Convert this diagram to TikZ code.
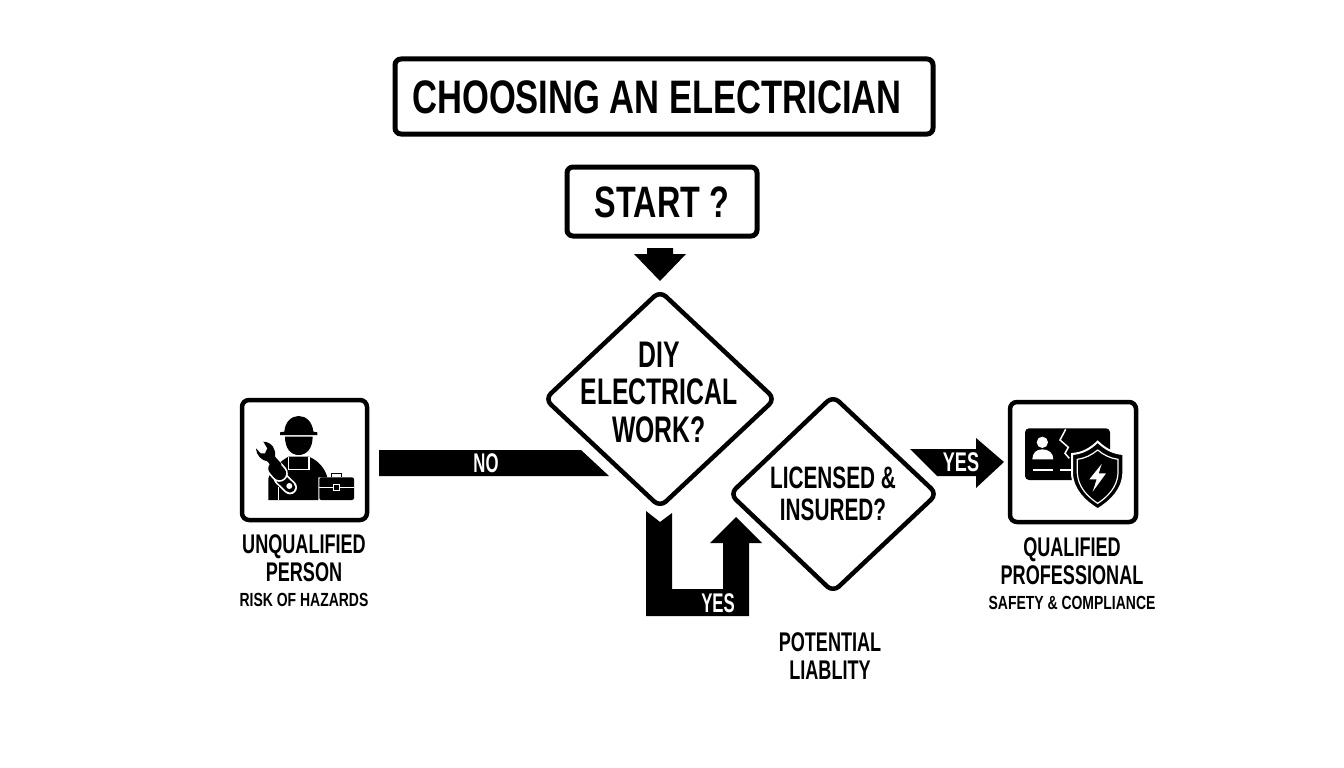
\documentclass[tikz,border=0pt]{standalone}
\usepackage{fontspec}
\newfontfamily\fa[FakeStretch=0.735]{Liberation Sans Bold}
\newfontfamily\fb[FakeStretch=0.67]{Liberation Sans Bold}
\newfontfamily\fc[FakeStretch=0.62]{Liberation Sans Bold}
\usetikzlibrary{shapes.geometric}
\tikzset{
  box/.style={draw=black,line width=5pt,rounded corners=6pt,fill=white},
  iconbox/.style={draw=black,line width=4.5pt,rounded corners=7pt,fill=white},
  decision/.style={draw=black,line width=4.5pt,rounded corners=8pt,fill=white,line join=round},
  blockarrow/.style={fill=black,draw=none},
  lbl/.style={inner sep=0pt,align=center},
  zoomed/.style={x=0.33333pt,y=-0.33333pt},
}
\begin{document}
\begin{tikzpicture}[x=1pt,y=-1pt]
\useasboundingbox (0,0) rectangle (1344,768);
\fill[white] (0,0) rectangle (1344,768);
% title and start
\draw[box] (395,59) rectangle (933,134);
\node[lbl,font=\fa\fontsize{47}{50}\selectfont] (title) at (657,97) {CHOOSING AN ELECTRICIAN};
\draw[box] (567,167) rectangle (757,236);
\node[lbl,font=\fa\fontsize{44}{48}\selectfont] (start) at (662,202) {START ?};
% diamonds
\draw[decision] (660,291) -- (775,399) -- (660,507) -- (545,399) -- cycle;
\draw[decision] (833,396) -- (937,494) -- (833,592) -- (730,494) -- cycle;
\node[lbl,font=\fb\fontsize{37}{38}\selectfont] (diy) at (659,392) {DIY\\[-0.5pt]ELECTRICAL\\[-0.5pt]WORK?};
\node[lbl,font=\fb\fontsize{31}{32}\selectfont] (lic) at (833,494) {LICENSED \&\\INSURED?};
% block arrows
\fill[blockarrow] (647,248) -- (673,248) -- (673,254) -- (686,254) -- (660,281) -- (634,254) -- (647,254) -- cycle;
\fill[blockarrow] (379,450) -- (581,450) -- (609,476) -- (379,476) -- cycle;
\node[lbl,white,font=\fc\fontsize{27}{28}\selectfont] (no) at (486,463) {NO};
\fill[blockarrow] (646,511) -- (660,522) -- (672,513) -- (672,589) -- (723,589) -- (723,543) -- (710,543) -- (736,517) -- (762,543) -- (749,543) -- (749,616) -- (646,616) -- cycle;
\node[lbl,white,font=\fc\fontsize{27}{28}\selectfont] (yesa) at (718,603) {YES};
\fill[blockarrow] (910,449) -- (976,449) -- (976,438) -- (1004,462) -- (976,488) -- (976,476) -- (937,476) -- cycle;
\node[lbl,white,font=\fb\fontsize{27}{28}\selectfont] (yesb) at (961,462) {YES};
% left icon
\draw[iconbox] (242,400) rectangle (367,520);
\begin{scope}[shift={(230,390)},zoomed]
  \fill (150,135) -- (150,127) -- (163,125) .. controls (165,95) and (185,78) .. (206,78) .. controls (228,78) and (247,95) .. (250,125) -- (262,127) -- (262,135) -- cycle;
  \fill (165,140) -- (248,140) .. controls (248,175) and (230,195) .. (206,195) .. controls (182,195) and (165,175) .. (165,140) -- cycle;
  \fill (115,330) -- (115,265) .. controls (125,235) and (150,215) .. (175,200) -- (237,200) .. controls (265,212) and (285,235) .. (292,262) -- (265,262) -- (265,330) -- cycle;
  \draw[white,line width=1.6pt] (175,200) -- (175,238) -- (237,238) -- (237,200);
  \draw[white,line width=1.6pt] (145,290) -- (145,330);
  % wrench
  \draw[white,line width=14pt,line cap=round] (152,265) -- (180,292);
  \draw[black,line width=10.5pt,line cap=round] (152,265) -- (180,292);
  \fill[white] (178,288) circle (9);
  \draw[white,line width=17pt,line cap=round] (135,235) -- (148,250);
  \draw[black,line width=13.5pt,line cap=round] (135,235) -- (148,250);
  \fill (78,175) .. controls (78,195) and (95,212) .. (112,214) -- (135,240) -- (155,222) -- (135,200) .. controls (140,180) and (125,155) .. (100,155) -- (112,175) -- (105,190) -- (92,190) -- cycle;
  % toolbox
  \draw[black,line width=1.6pt] (305,262) -- (305,250) -- (335,250) -- (335,262);
  \fill[rounded corners=2pt] (268,262) rectangle (372,330);
  \draw[white,line width=.8pt] (268,292) -- (372,292);
  \fill (309,284) rectangle (329,302);
  \draw[white,line width=.9pt] (309,284) rectangle (329,302);
\end{scope}
% right icon
\draw[iconbox] (1010,402) rectangle (1136,522);
\begin{scope}[shift={(1000,390)},zoomed]
  \fill[rounded corners=4pt] (75,115) rectangle (330,270);
  \draw[white,line width=1.5pt] (197,118) -- (180,150) -- (205,172) -- (195,190) -- (208,205);
  \fill[white] (127,157) circle (17);
  \fill[white] (97,208) .. controls (97,188) and (110,178) .. (127,178) .. controls (145,178) and (160,188) .. (160,208) -- cycle;
  \draw[white,line width=1.5pt] (100,240) -- (160,240) (180,240) -- (215,240);
  \path[fill=black,draw=white,line width=2pt] (293,155) .. controls (270,178) and (245,190) .. (216,192) -- (216,250) .. controls (218,300) and (255,335) .. (293,358) .. controls (331,335) and (368,300) .. (370,250) -- (370,192) .. controls (341,190) and (316,178) .. (293,155) -- cycle;
  \draw[white,line width=1.2pt] (293,180) .. controls (275,195) and (255,205) .. (232,208) -- (232,250) .. controls (234,290) and (262,320) .. (293,340) .. controls (324,320) and (352,290) .. (354,250) -- (354,208) .. controls (331,205) and (311,195) .. (293,180) -- cycle;
  \fill[white] (305,222) -- (268,268) -- (290,268) -- (278,305) -- (318,250) -- (296,250) -- cycle;
\end{scope}
% captions
\node[lbl,font=\fb\fontsize{27}{28.5}\selectfont] (unq) at (304,558) {UNQUALIFIED\\PERSON};
\node[lbl,font=\fa\fontsize{19}{20}\selectfont] (risk) at (304,600) {RISK OF HAZARDS};
\node[lbl,font=\fb\fontsize{27}{28.5}\selectfont] (qual) at (1072,561) {QUALIFIED\\PROFESSIONAL};
\node[lbl,font=\fa\fontsize{19}{20}\selectfont] (safe) at (1072,603) {SAFETY \& COMPLIANCE};
\node[lbl,font=\fb\fontsize{27}{28.5}\selectfont] (pot) at (830,656) {POTENTIAL\\LIABLITY};
\end{tikzpicture}
\end{document}
